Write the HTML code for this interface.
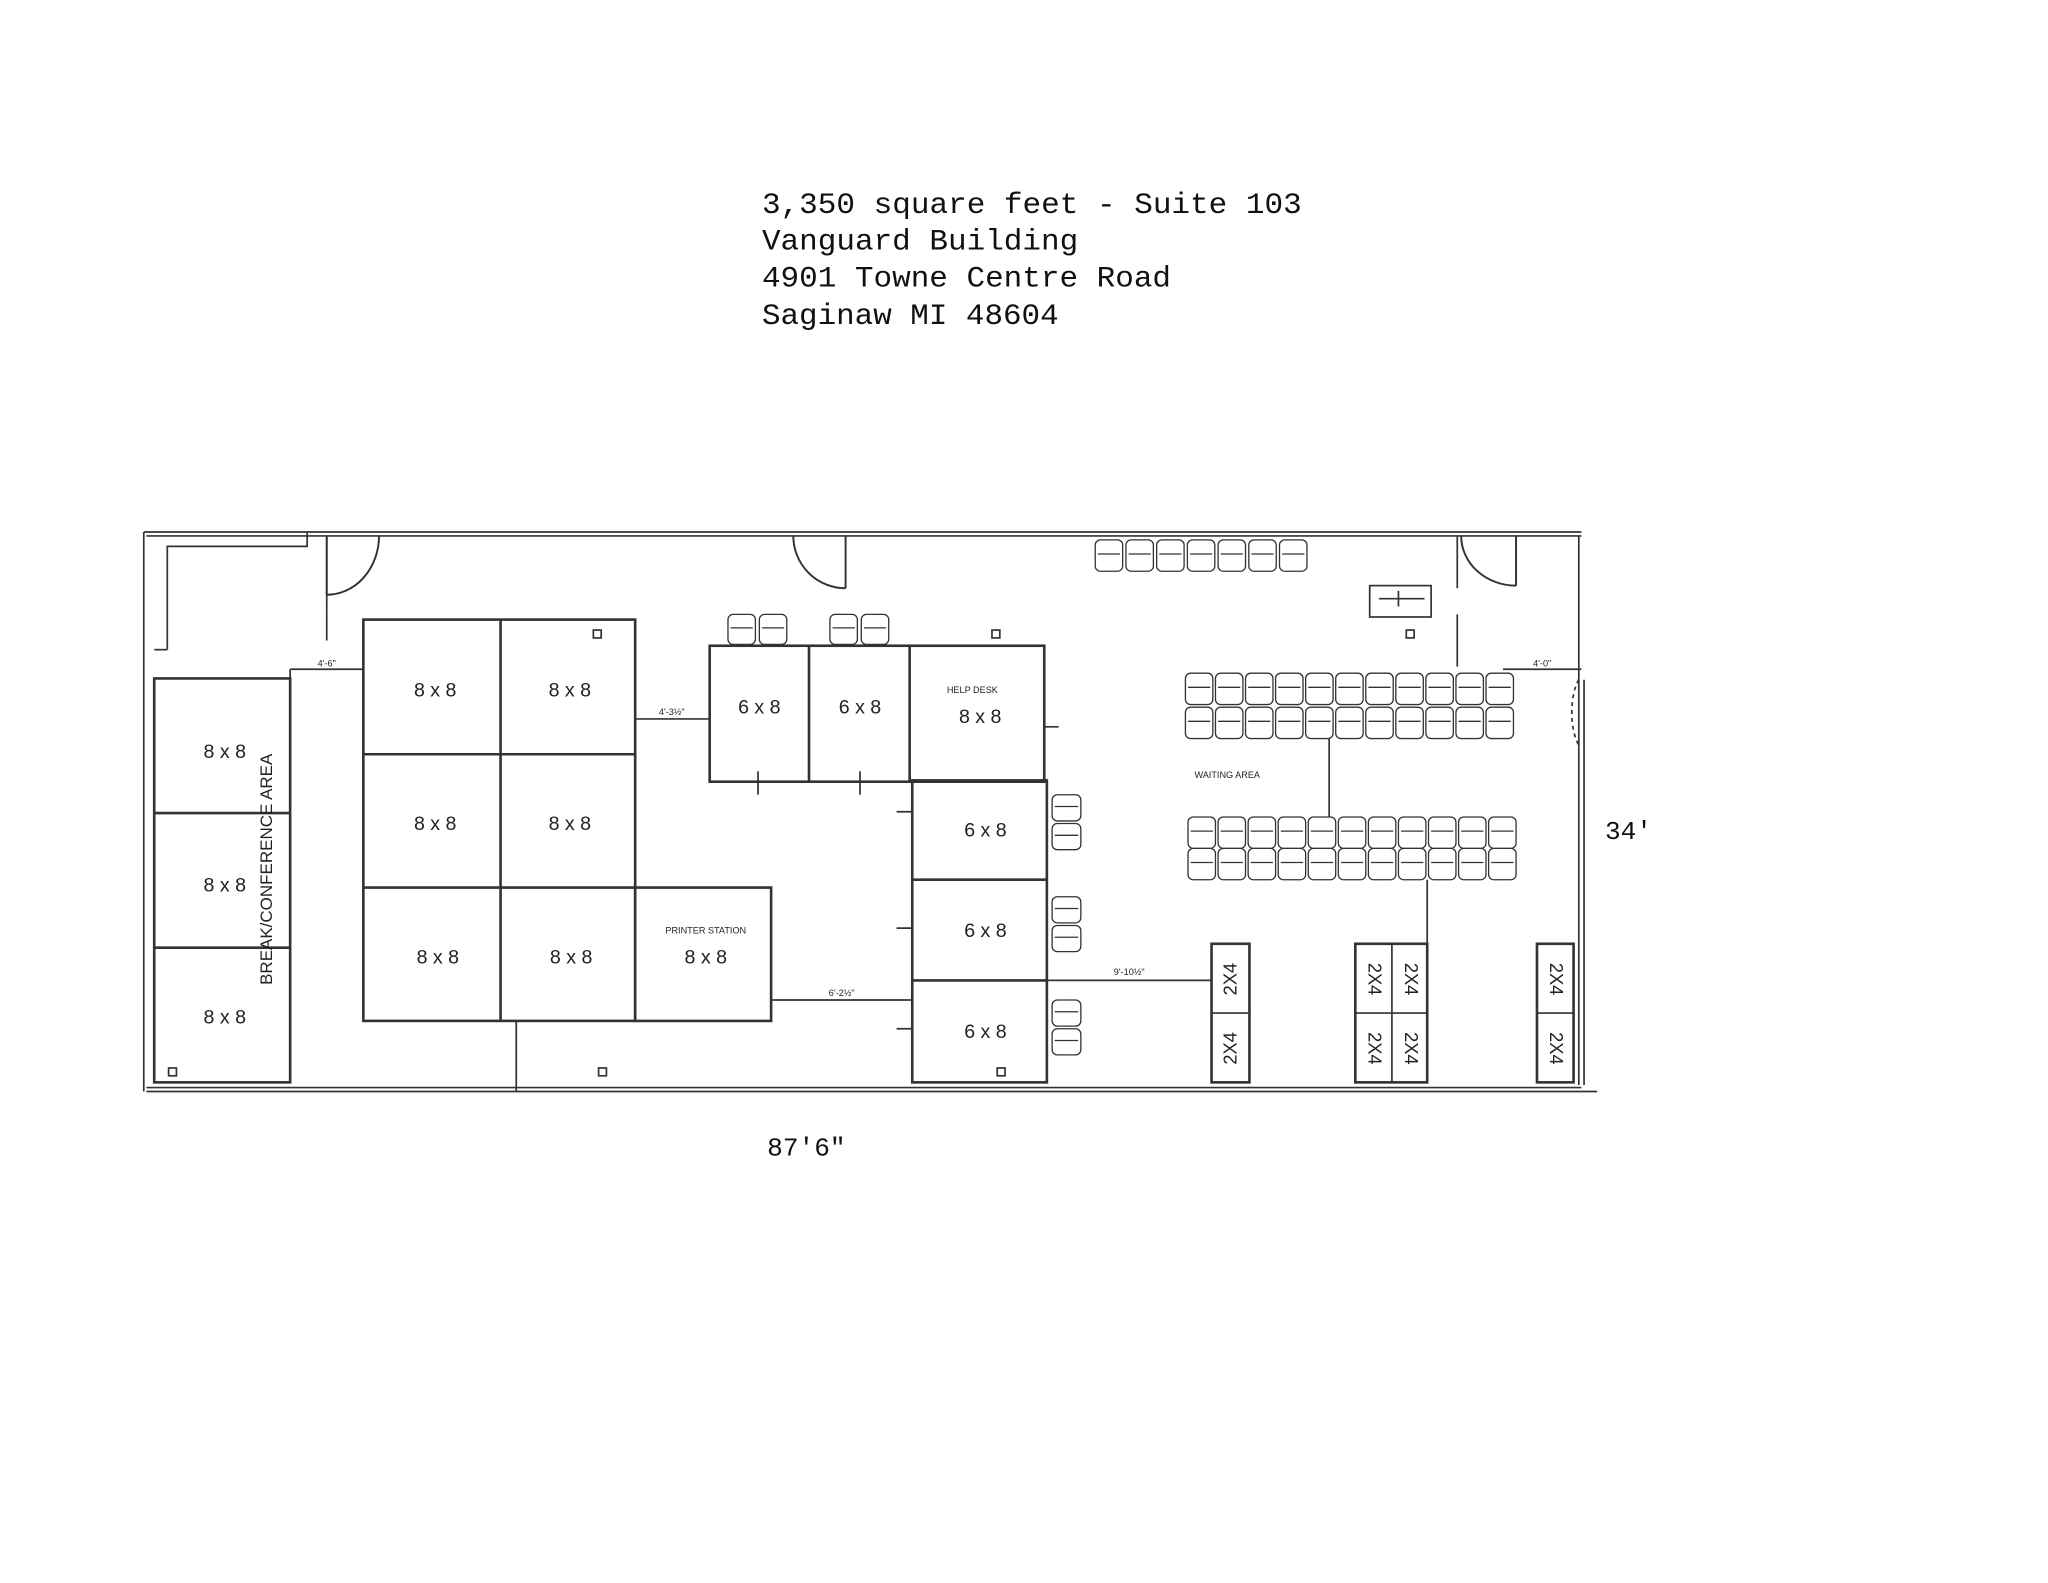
<!DOCTYPE html>
<html><head><meta charset="utf-8"><style>
html,body{margin:0;padding:0;background:#fff}
svg{display:block}
text{font-family:"Liberation Sans",sans-serif;fill:#222}
.m{font-family:"Liberation Mono",monospace;fill:#111}
</style></head><body>
<svg id="s" width="2048" height="1583" viewBox="0 0 1567 1211" preserveAspectRatio="none" xmlns="http://www.w3.org/2000/svg">
<g fill="none" stroke="#333" stroke-width="1.3">
<path d="M110 407 H1210"/><path d="M112 410 H1210"/>
<path d="M112 835 H1222"/><path d="M112 832 H1210"/>
<path d="M110 407 V835"/>
<path d="M1208 410 V830"/><path d="M1212 520 V830"/>
<path d="M128 497 V418 H235 V407"/><path d="M118 497 H128"/>
<path d="M250 410 V470"/>
<path d="M250 410 V455 M250 455 A40 45 0 0 0 290 410" stroke-width="1.5"/>
<path d="M647 410 V450 M647 450 A40 40 0 0 1 607 410" stroke-width="1.5"/>
<path d="M1160 410 V448 M1160 448 A42 38 0 0 1 1118 410" stroke-width="1.5"/>
<path d="M1115 410 V450 M1115 470 V510"/>
<path d="M1208 520 A12 30 0 0 0 1208 570" stroke-dasharray="3 3"/>
<rect x="118" y="519" width="104" height="309" stroke-width="2"/>
<path d="M118 622 H222 M118 725 H222" stroke-width="2"/>
<rect x="278" y="474" width="208" height="307" stroke-width="2"/>
<path d="M383 474 V781 M278 577 H486 M278 679 H590 V781 H486 M486 679 V781" stroke-width="2"/>
<rect x="543" y="494" width="256" height="104" stroke-width="2"/>
<path d="M619 494 V598 M696 494 V598" stroke-width="2"/>
<rect x="698" y="597" width="103" height="231" stroke-width="2"/>
<path d="M698 673 H801 M698 750 H801" stroke-width="2"/>
<path d="M580 590 V608 M658 590 V608 M799 556 H810 M686 621 H698 M686 710 H698 M686 787 H698"/>
<rect x="927" y="722" width="29" height="106" stroke-width="2"/><path d="M927 775 H956"/>
<rect x="1037" y="722" width="55" height="106" stroke-width="2"/><path d="M1065 722 V828 M1037 775 H1092"/>
<rect x="1176" y="722" width="28" height="106" stroke-width="2"/><path d="M1176 775 H1204"/>
<path d="M222 512 H278 M222 512 V519"/>
<path d="M486 550 H543"/>
<path d="M590 765 H698"/>
<path d="M801 750 H927"/>
<path d="M1150 512 H1210"/>
<path d="M1017 565 V625"/>
<path d="M1092 673 V722"/>
<path d="M395 781 V835"/>
<path d="M250 470 V490"/>
<rect x="1048" y="448" width="47" height="24"/>
<path d="M1055 458 H1090 M1070 452 V464"/>
<rect x="454" y="482" width="6" height="6"/><rect x="759" y="482" width="6" height="6"/>
<rect x="129" y="817" width="6" height="6"/><rect x="458" y="817" width="6" height="6"/>
<rect x="763" y="817" width="6" height="6"/><rect x="1076" y="482" width="6" height="6"/>
<g id="chairs" stroke-width="1"></g>
</g>
<g font-size="15" text-anchor="middle">
<text x="172" y="580">8 x 8</text><text x="172" y="682">8 x 8</text><text x="172" y="783">8 x 8</text>
<text x="333" y="533">8 x 8</text><text x="436" y="533">8 x 8</text>
<text x="333" y="635">8 x 8</text><text x="436" y="635">8 x 8</text>
<text x="335" y="737">8 x 8</text><text x="437" y="737">8 x 8</text><text x="540" y="737">8 x 8</text>
<text x="581" y="546">6 x 8</text><text x="658" y="546">6 x 8</text><text x="750" y="553">8 x 8</text>
<text x="754" y="640">6 x 8</text><text x="754" y="717">6 x 8</text><text x="754" y="794">6 x 8</text>
</g>
<g font-size="7" text-anchor="middle">
<text x="540" y="714">PRINTER STATION</text><text x="744" y="530">HELP DESK</text>
<text x="939" y="595">WAITING AREA</text>
<text x="250" y="510">4'-6"</text><text x="514" y="547">4'-3½"</text><text x="644" y="762">6'-2½"</text>
<text x="864" y="746">9'-10½"</text><text x="1180" y="510">4'-0"</text>
</g>
<text x="208" y="665" font-size="13" text-anchor="middle" transform="rotate(-90 208 665)">BREAK/CONFERENCE AREA</text>
<g font-size="14" text-anchor="middle">
<text transform="translate(946 749) rotate(-90)">2X4</text><text transform="translate(946 802) rotate(-90)">2X4</text>
<text transform="translate(1047 749) rotate(90)">2X4</text><text transform="translate(1047 802) rotate(90)">2X4</text>
<text transform="translate(1075 749) rotate(90)">2X4</text><text transform="translate(1075 802) rotate(90)">2X4</text>
<text transform="translate(1186 749) rotate(90)">2X4</text><text transform="translate(1186 802) rotate(90)">2X4</text>
</g>
<g class="m" font-size="23">
<text class="m" x="583" y="163" textLength="413" lengthAdjust="spacingAndGlyphs">3,350 square feet - Suite 103</text>
<text class="m" x="583" y="191" textLength="242" lengthAdjust="spacingAndGlyphs">Vanguard Building</text>
<text class="m" x="583" y="219" textLength="313" lengthAdjust="spacingAndGlyphs">4901 Towne Centre Road</text>
<text class="m" x="583" y="248" textLength="227" lengthAdjust="spacingAndGlyphs">Saginaw MI 48604</text>
</g>
<text x="1228" y="642" font-size="20" class="m">34'</text>
<text x="587" y="884" font-size="20" class="m">87'6"</text>
</svg>
<script>
var g=document.getElementById('chairs'),h='';
function ch(x,y,w,hh){h+='<rect x="'+x+'" y="'+y+'" width="'+w+'" height="'+hh+'" rx="4"/><path d="M'+(x+2)+' '+(y+hh*0.45)+' H'+(x+w-2)+'"/>';}
for(var i=0;i<7;i++)ch(838+i*23.5,413,21,24);
ch(557,470,21,23);ch(581,470,21,23);ch(635,470,21,23);ch(659,470,21,23);
for(var i=0;i<11;i++){ch(907+i*23,515,21,24);ch(907+i*23,541,21,24);ch(909+i*23,625,21,24);ch(909+i*23,649,21,24);}
[608,686,765].forEach(function(y){ch(805,y,22,20);ch(805,y+22,22,20);});
g.innerHTML=h;
</script>
</body></html>
